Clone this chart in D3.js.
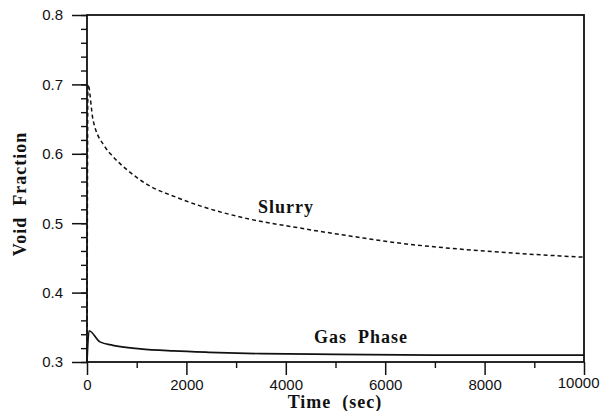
<!DOCTYPE html>
<html>
<head>
<meta charset="utf-8">
<script src="https://cdn.jsdelivr.net/npm/d3@7"></script>
<style>
  body { margin: 0; background: #fff; }
  svg text { fill: #111; }
  .tick-label text { font-family: "Liberation Sans", Arial, sans-serif; font-size: 15px; }
  .title { font-family: "Liberation Serif", "Times New Roman", serif; font-weight: bold; font-size: 18px; white-space: pre; }
</style>
</head>
<body>
<svg id="chart" width="601" height="411"></svg>
<script>
// Slurry void fraction vs time (sec)
const slurryTime  = [0, 20, 121, 362, 523, 805, 1207, 1811, 2274, 3139, 4286, 5433, 6097, 7445, 8773, 10000];
const slurryVoid  = [0.300, 0.700, 0.649, 0.610, 0.596, 0.577, 0.556, 0.537, 0.525, 0.508, 0.493, 0.480, 0.473, 0.463, 0.456, 0.451];

// Gas phase void fraction vs time (sec)
const gasTime = [0, 40, 260, 520, 1070, 1740, 2450, 3500, 5000, 7000, 10000];
const gasVoid = [0.300, 0.345, 0.329, 0.324, 0.319, 0.316, 0.314, 0.312, 0.311, 0.310, 0.310];

const xTicks = [0, 2000, 4000, 6000, 8000, 10000];
const yTicks = [0.3, 0.4, 0.5, 0.6, 0.7, 0.8];

const svg = d3.select('#chart');

const x = d3.scaleLinear().domain([0, 10000]).range([87, 584]);
const y = d3.scaleLinear().domain([0.3, 0.8]).range([362, 15]);

const line = d3.line()
    .x(d => x(d[0]))
    .y(d => y(d[1]))
    .curve(d3.curveMonotoneX);

const slurry = slurryTime.map((t, i) => [t, slurryVoid[i]]);
const gas = gasTime.map((t, i) => [t, gasVoid[i]]);

// minor ticks
svg.append('g')
    .attr('transform', `translate(${x(0)},0)`)
    .call(d3.axisLeft(y).tickValues(d3.range(0.3, 0.801, 0.02)).tickSize(6).tickFormat(''))
    .call(g => g.select('.domain').remove())
    .selectAll('line').attr('stroke', '#111').attr('stroke-width', 1.4);

svg.append('g')
    .attr('transform', `translate(0,${y(0.3)})`)
    .call(d3.axisBottom(x).tickValues(d3.range(1000, 10000, 2000)).tickSize(6).tickFormat(''))
    .call(g => g.select('.domain').remove())
    .selectAll('line').attr('stroke', '#111').attr('stroke-width', 1.4);

// major ticks with labels
svg.append('g')
    .attr('class', 'tick-label')
    .attr('transform', `translate(${x(0)},0)`)
    .call(d3.axisLeft(y).tickValues(yTicks).tickSize(15).tickPadding(9).tickFormat(d3.format('.1f')))
    .call(g => g.select('.domain').remove())
    .call(g => g.selectAll('line').attr('stroke', '#111').attr('stroke-width', 1.5))
    .call(g => g.selectAll('text').attr('fill', '#222'));

svg.append('g')
    .attr('class', 'tick-label')
    .attr('transform', `translate(0,${y(0.3)})`)
    .call(d3.axisBottom(x).tickValues(xTicks).tickSize(13).tickPadding(4).tickFormat(d3.format('d')))
    .call(g => g.select('.domain').remove())
    .call(g => g.selectAll('line').attr('stroke', '#111').attr('stroke-width', 1.5))
    .call(g => g.selectAll('text').attr('fill', '#222'))
    // last label sits against the right edge
    .call(g => g.selectAll('.tick').filter(d => d === 10000).select('text')
        .attr('text-anchor', 'end').attr('x', 15).attr('dy', '0.6em'));

// frame
svg.append('rect')
    .attr('x', x(0))
    .attr('y', y(0.8))
    .attr('width', x(10000) - x(0))
    .attr('height', y(0.3) - y(0.8))
    .attr('fill', 'none')
    .attr('stroke', '#111')
    .attr('stroke-width', 1.8);

// curves
svg.append('path')
    .datum(slurry)
    .attr('fill', 'none')
    .attr('stroke', '#111')
    .attr('stroke-width', 1.5)
    .attr('stroke-dasharray', '4,3')
    .attr('d', line);

svg.append('path')
    .datum(gas)
    .attr('fill', 'none')
    .attr('stroke', '#111')
    .attr('stroke-width', 1.7)
    .attr('d', line);

// labels
svg.append('text')
    .attr('class', 'title')
    .attr('x', 286).attr('y', 213)
    .attr('text-anchor', 'middle')
    .attr('letter-spacing', 1)
    .text('Slurry');

svg.append('text')
    .attr('class', 'title')
    .attr('x', 361).attr('y', 343)
    .attr('text-anchor', 'middle')
    .attr('letter-spacing', 1)
    .text('Gas  Phase');

svg.append('text')
    .attr('class', 'title')
    .attr('x', 335).attr('y', 408)
    .attr('text-anchor', 'middle')
    .attr('letter-spacing', 1)
    .text('Time  (sec)');

svg.append('text')
    .attr('class', 'title')
    .attr('transform', 'translate(26,194) rotate(-90)')
    .attr('text-anchor', 'middle')
    .attr('letter-spacing', 1)
    .text('Void  Fraction');
</script>
</body>
</html>
